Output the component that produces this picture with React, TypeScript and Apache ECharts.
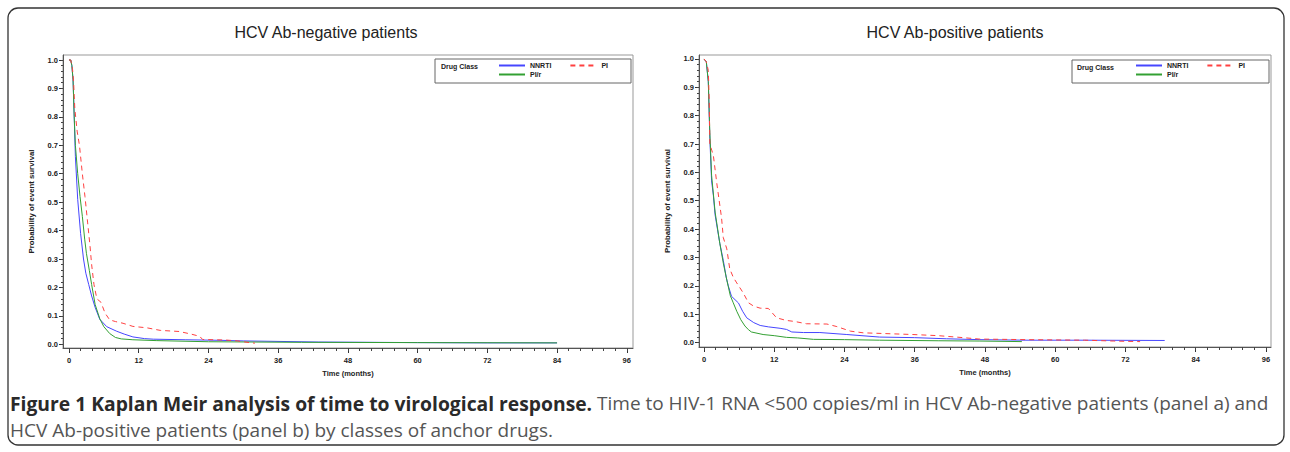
import React, { useEffect, useRef } from "react";
import * as echarts from "echarts";

// ---- tick values ----
const xMajorTicks = [0, 12, 24, 36, 48, 60, 72, 84, 96];
const xMinorTicks = [
  0, 2, 4, 6, 8, 10, 12, 14, 16, 18, 20, 22, 24, 26, 28, 30, 32, 34, 36, 38, 40, 42, 44, 46, 48,
  50, 52, 54, 56, 58, 60, 62, 64, 66, 68, 70, 72, 74, 76, 78, 80, 82, 84, 86, 88, 90, 92, 94, 96,
];
const yMajorTicks = [0, 0.1, 0.2, 0.3, 0.4, 0.5, 0.6, 0.7, 0.8, 0.9, 1.0];
const yMinorTicks = [
  0, 0.02, 0.04, 0.06, 0.08, 0.1, 0.12, 0.14, 0.16, 0.18, 0.2, 0.22, 0.24, 0.26, 0.28, 0.3, 0.32,
  0.34, 0.36, 0.38, 0.4, 0.42, 0.44, 0.46, 0.48, 0.5, 0.52, 0.54, 0.56, 0.58, 0.6, 0.62, 0.64,
  0.66, 0.68, 0.7, 0.72, 0.74, 0.76, 0.78, 0.8, 0.82, 0.84, 0.86, 0.88, 0.9, 0.92, 0.94, 0.96,
  0.98, 1.0,
];

const panelTitles = ["HCV Ab-negative patients", "HCV Ab-positive patients"];
const seriesNames = ["NNRTI", "PI", "PI/r"];

// ---- HCV Ab-negative ----
const negNNRTI: [number, number][] = [
  [0, 1], [0.3, 1], [0.5, 0.98], [0.7, 0.93], [0.9, 0.8], [1.1, 0.66], [1.5, 0.51], [2.0, 0.39],
  [2.5, 0.3], [2.9, 0.25], [3.4, 0.21], [3.9, 0.17], [4.5, 0.13], [5.3, 0.088], [6.5, 0.062],
  [8.2, 0.046], [9.5, 0.036], [11, 0.026], [13, 0.02], [14.5, 0.018], [20, 0.016], [26, 0.014],
  [30, 0.012], [43, 0.008], [60, 0.006], [72, 0.005], [84, 0.005],
];
const negPIr: [number, number][] = [
  [0, 1], [0.3, 1], [0.5, 0.98], [0.7, 0.93], [0.9, 0.8], [1.1, 0.7], [1.5, 0.6], [1.9, 0.52],
  [2.3, 0.45], [2.7, 0.37], [3.0, 0.32], [3.5, 0.26], [3.9, 0.21], [4.5, 0.14], [5.3, 0.09],
  [6.0, 0.062], [7.0, 0.038], [8.0, 0.024], [9.0, 0.019], [11, 0.016], [15, 0.013], [24, 0.009],
  [40, 0.007], [60, 0.006], [84, 0.005],
];
const negPI: [number, number][] = [
  [0, 1], [0.3, 1], [0.6, 0.97], [0.8, 0.92], [1.0, 0.83], [1.4, 0.75], [1.8, 0.7], [2.3, 0.6],
  [2.75, 0.52], [3.2, 0.43], [3.6, 0.35], [3.9, 0.28], [4.3, 0.21], [4.8, 0.16], [5.5, 0.148],
  [6.2, 0.11], [7, 0.086], [8, 0.08], [9.3, 0.074], [11, 0.063], [13.4, 0.058], [15.7, 0.049],
  [19, 0.045], [21, 0.036], [22.5, 0.028], [23, 0.017], [27, 0.015], [29, 0.012], [31, 0.006],
  [32, 0.004],
];

// ---- HCV Ab-positive ----
const posNNRTI: [number, number][] = [
  [0, 1], [0.4, 0.99], [0.74, 0.92], [1.0, 0.72], [1.3, 0.57], [1.6, 0.52], [1.9, 0.45],
  [2.3, 0.4], [2.7, 0.35], [3.3, 0.29], [3.8, 0.23], [4.15, 0.2], [4.7, 0.163], [5.9, 0.139],
  [6.6, 0.11], [7.3, 0.087], [8.5, 0.07], [9.6, 0.06], [11, 0.055], [13, 0.05], [14.1, 0.046],
  [15, 0.037], [17, 0.035], [19.8, 0.035], [24.4, 0.028], [30, 0.019], [36, 0.017], [41.4, 0.013],
  [47, 0.01], [55, 0.008], [65, 0.008], [78.7, 0.007],
];
const posPIr: [number, number][] = [
  [0, 1], [0.4, 0.99], [0.74, 0.92], [1.0, 0.74], [1.3, 0.59], [1.9, 0.46], [2.7, 0.35],
  [3.3, 0.28], [3.9, 0.22], [4.5, 0.165], [5.0, 0.14], [5.6, 0.11], [6.3, 0.08], [7.0, 0.058],
  [7.6, 0.045], [8.1, 0.037], [10.1, 0.028], [12, 0.024], [14.1, 0.018], [16, 0.016],
  [18.7, 0.011], [24, 0.01], [30, 0.008], [40, 0.006], [47, 0.005], [54.3, 0.003],
];
const posPI: [number, number][] = [
  [0, 1], [0.4, 0.99], [0.74, 0.96], [0.9, 0.85], [1.0, 0.7], [1.6, 0.66], [2.2, 0.56],
  [3.0, 0.44], [3.3, 0.37], [3.9, 0.33], [4.4, 0.26], [5.0, 0.23], [5.6, 0.21], [6.7, 0.175],
  [7.6, 0.14], [8.5, 0.128], [9.6, 0.121], [11, 0.12], [12.4, 0.087], [14, 0.078], [15.5, 0.074],
  [17.5, 0.066], [21, 0.065], [22.7, 0.056], [25, 0.04], [27.2, 0.034], [35.7, 0.028], [40, 0.024],
  [44.3, 0.017], [47, 0.012], [55, 0.01], [65, 0.008], [70, 0.005], [74.5, 0.003],
];

const captionBold = "Figure 1 Kaplan Meir analysis of time to virological response.";
const captionLine1 = " Time to HIV-1 RNA <500 copies/ml in HCV Ab-negative patients (panel a) and";
const captionLine2 = "HCV Ab-positive patients (panel b) by classes of anchor drugs.";

const SAS_FONT = "Liberation Sans, Arial, sans-serif";
const BLUE = "#4646ff";
const GREEN = "#33a033";
const RED = "#ff4040";

export default function App() {
  const ref = useRef<HTMLDivElement>(null);

  useEffect(() => {
    if (!ref.current) return;
    const chart = echarts.init(ref.current, null, { renderer: "svg" });

    const grids = [
      { left: 63, top: 55, width: 570, height: 293 },
      { left: 699, top: 55, width: 572, height: 292 },
    ];
    const xRanges = [
      [-1.03, 97.07],
      [-0.85, 96.86],
    ];
    const yRanges = [
      [-0.013, 1.0176],
      [-0.016, 1.014],
    ];

    const xAxis: any[] = [];
    const yAxis: any[] = [];
    grids.forEach((_, g) => {
      xAxis.push({
        type: "value",
        gridIndex: g,
        min: xRanges[g][0],
        max: xRanges[g][1],
        position: "bottom",
        axisLine: { show: true, onZero: false, lineStyle: { color: "#555", width: 1 } },
        axisTick: { show: true, customValues: xMajorTicks, length: 5, lineStyle: { color: "#333" } },
        axisLabel: {
          customValues: xMajorTicks,
          margin: 8,
          fontSize: 7.5,
          fontWeight: "bold",
          color: "#222",
          fontFamily: SAS_FONT,
        },
        splitLine: { show: false },
        name: "Time (months)",
        nameLocation: "middle",
        nameGap: 21,
        nameTextStyle: { fontSize: 7.5, fontWeight: "bold", color: "#222", fontFamily: SAS_FONT },
      });
      xAxis.push({
        type: "value",
        gridIndex: g,
        min: xRanges[g][0],
        max: xRanges[g][1],
        position: "bottom",
        axisLine: { show: false, onZero: false },
        axisTick: { show: true, customValues: xMinorTicks, length: 3, lineStyle: { color: "#444" } },
        axisLabel: { show: false },
        splitLine: { show: false },
      });
      yAxis.push({
        type: "value",
        gridIndex: g,
        min: yRanges[g][0],
        max: yRanges[g][1],
        position: "left",
        axisLine: { show: true, onZero: false, lineStyle: { color: "#555", width: 1 } },
        axisTick: { show: true, customValues: yMajorTicks, length: 4, lineStyle: { color: "#333" } },
        axisLabel: {
          customValues: yMajorTicks,
          margin: 5,
          fontSize: 7.5,
          fontWeight: "bold",
          color: "#222",
          fontFamily: SAS_FONT,
          formatter: (v: number) => v.toFixed(1),
        },
        splitLine: { show: false },
        name: "Probability of event survival",
        nameLocation: "middle",
        nameGap: 28,
        nameRotate: 90,
        nameTextStyle: { fontSize: 7.8, fontWeight: "bold", color: "#222", fontFamily: SAS_FONT },
      });
      yAxis.push({
        type: "value",
        gridIndex: g,
        min: yRanges[g][0],
        max: yRanges[g][1],
        position: "left",
        axisLine: { show: false, onZero: false },
        axisTick: { show: true, customValues: yMinorTicks, length: 2, lineStyle: { color: "#444" } },
        axisLabel: { show: false },
        splitLine: { show: false },
      });
    });

    const mk = (name: string, data: [number, number][], g: number, color: string, dashed: boolean) => ({
      type: "line",
      name,
      xAxisIndex: g * 2,
      yAxisIndex: g * 2,
      data,
      showSymbol: false,
      symbol: "none",
      smooth: false,
      lineStyle: { color, width: 1, type: dashed ? [5, 4] : "solid" },
      itemStyle: { color },
      z: dashed ? 3 : 2,
    });

    const series = [
      mk(seriesNames[0], negNNRTI, 0, BLUE, false),
      mk(seriesNames[2], negPIr, 0, GREEN, false),
      mk(seriesNames[1], negPI, 0, RED, true),
      mk(seriesNames[0], posNNRTI, 1, BLUE, false),
      mk(seriesNames[2], posPIr, 1, GREEN, false),
      mk(seriesNames[1], posPI, 1, RED, true),
    ];

    const legendText = { fontSize: 7, fontWeight: "bold", color: "#222", fontFamily: SAS_FONT };
    const legendBase = {
      orient: "horizontal",
      itemWidth: 26,
      itemHeight: 6,
      itemGap: 18,
      padding: 0,
      selectedMode: false,
      textStyle: legendText,
      itemStyle: { opacity: 0, borderWidth: 0 },
    };
    const legendLeft = [498, 1135];
    const legend: any[] = [];
    legendLeft.forEach((lx) => {
      legend.push({ ...legendBase, left: lx, top: 62, data: [seriesNames[0], seriesNames[1]] });
      legend.push({ ...legendBase, left: lx, top: 71, data: [seriesNames[2]] });
    });

    const boxes = [
      { x: 435, y: 59, w: 196, h: 24, tx: 441 },
      { x: 1072, y: 60, w: 197, h: 23, tx: 1077 },
    ];

    const captionStyle = {
      b: { fontFamily: "Open Sans, sans-serif", fontSize: 19.3, fontWeight: "bold", fill: "#2a2a2a" },
      r: { fontFamily: "Open Sans, sans-serif", fontSize: 19, fill: "#555" },
    };

    const graphic: any[] = [
      {
        type: "rect",
        shape: { x: 8, y: 8, width: 1276, height: 437, r: 10 },
        style: { fill: "none", stroke: "#333", lineWidth: 1.3 },
        silent: true,
      },
      {
        type: "text",
        x: 326,
        y: 32,
        style: {
          text: panelTitles[0],
          fontSize: 16,
          fontFamily: SAS_FONT,
          fill: "#222",
          align: "center",
          verticalAlign: "middle",
        },
      },
      {
        type: "text",
        x: 955,
        y: 32,
        style: {
          text: panelTitles[1],
          fontSize: 16,
          fontFamily: SAS_FONT,
          fill: "#222",
          align: "center",
          verticalAlign: "middle",
        },
      },
      {
        type: "text",
        x: 10,
        y: 403,
        style: {
          text: `{b|${captionBold}}{r|${captionLine1}}`,
          verticalAlign: "middle",
          rich: captionStyle,
        },
      },
      {
        type: "text",
        x: 10,
        y: 429.5,
        style: {
          text: `{r|${captionLine2}}`,
          verticalAlign: "middle",
          rich: captionStyle,
        },
      },
    ];
    boxes.forEach((b) => {
      graphic.push({
        type: "rect",
        shape: { x: b.x, y: b.y, width: b.w, height: b.h },
        style: { fill: "#fff", stroke: "#666", lineWidth: 1 },
        z: 0,
      });
      graphic.push({
        type: "text",
        x: b.tx,
        y: b.y + 7,
        style: {
          text: "Drug Class",
          fontSize: 7,
          fontWeight: "bold",
          fontFamily: SAS_FONT,
          fill: "#222",
          verticalAlign: "middle",
        },
      });
    });

    chart.setOption({
      animation: false,
      backgroundColor: "#fff",
      grid: grids.map((g) => ({
        ...g,
        show: true,
        borderColor: "#999",
        borderWidth: 1,
        backgroundColor: "transparent",
        containLabel: false,
      })),
      xAxis,
      yAxis,
      legend,
      series,
      graphic,
    });

    return () => chart.dispose();
  }, []);

  return (
    <div
      ref={ref}
      style={{ position: "absolute", left: 0, top: 0, width: 1290, height: 452 }}
    />
  );
}
